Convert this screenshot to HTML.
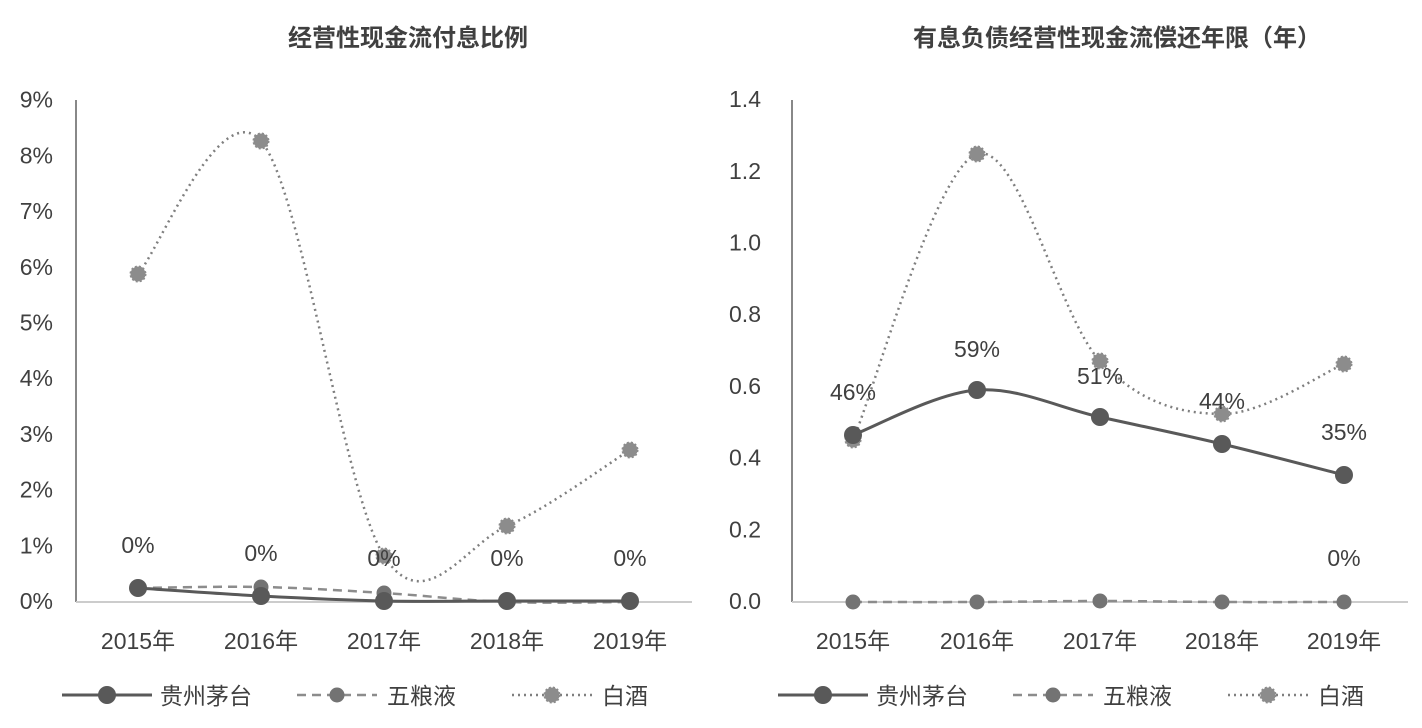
<!DOCTYPE html>
<html><head><meta charset="utf-8"><style>
html,body{margin:0;padding:0;background:#fff;}
svg text{font-family:"Liberation Sans","Noto Sans CJK SC",sans-serif;fill:#404040;}
</style></head><body>
<svg id="s" width="1422" height="723" xmlns="http://www.w3.org/2000/svg">
<text x="408" y="46" font-size="24" font-weight="bold" text-anchor="middle" fill="#333">经营性现金流付息比例</text>
<text x="1117" y="46" font-size="24" font-weight="bold" text-anchor="middle" fill="#333">有息负债经营性现金流偿还年限（年）</text>
<line x1="76" y1="100" x2="76" y2="602" stroke="#888" stroke-width="2"/>
<line x1="76" y1="602" x2="692" y2="602" stroke="#ccc" stroke-width="2"/>
<line x1="792" y1="100" x2="792" y2="602" stroke="#888" stroke-width="2"/>
<line x1="792" y1="602" x2="1408" y2="602" stroke="#ccc" stroke-width="2"/>
<g id="g"></g>
</svg>
<script>
var s=document.getElementById('g'),h='';
function t(x,y,str,sz,anc){h+='<text x="'+x+'" y="'+y+'" font-size="'+(sz||23)+'" text-anchor="'+(anc||'middle')+'">'+str+'</text>';}
for(var i=0;i<=9;i++){t(53,609-i*55.7,i+'%',23,'end');}
['0.0','0.2','0.4','0.6','0.8','1.0','1.2','1.4'].forEach(function(v,i){t(761,609-i*71.7,v,23,'end');});
var lx=[138,261,384,507,630],rx=[853,977,1100,1222,1344];
var yrs=['2015年','2016年','2017年','2018年','2019年'];
for(var i=0;i<5;i++){t(lx[i],649,yrs[i]);t(rx[i],649,yrs[i]);}
function cr(p){var d='M'+p[0][0]+','+p[0][1];for(var i=0;i<p.length-1;i++){var p0=p[i-1]||p[i],p1=p[i],p2=p[i+1],p3=p[i+2]||p2;
d+=' C'+(p1[0]+(p2[0]-p0[0])/6)+','+(p1[1]+(p2[1]-p0[1])/6)+' '+(p2[0]-(p3[0]-p1[0])/6)+','+(p2[1]-(p3[1]-p1[1])/6)+' '+p2[0]+','+p2[1];}return d;}
function ser(xs,ys,kind){var p=xs.map(function(x,i){return [x,ys[i]];});
if(kind==0)h+='<path d="'+cr(p)+'" fill="none" stroke="#595959" stroke-width="3"/>';
if(kind==1)h+='<path d="'+cr(p)+'" fill="none" stroke="#8c8c8c" stroke-width="2.5" stroke-dasharray="9,6"/>';
if(kind==2)h+='<path d="'+cr(p)+'" fill="none" stroke="#7f7f7f" stroke-width="2.5" stroke-dasharray="2,4"/>';
p.forEach(function(q){mk(q[0],q[1],kind);});}
function mk(x,y,k){if(k==0)h+='<circle cx="'+x+'" cy="'+y+'" r="9" fill="#595959"/>';
else if(k==1)h+='<circle cx="'+x+'" cy="'+y+'" r="7.5" fill="#737373"/>';
else h+='<circle cx="'+x+'" cy="'+y+'" r="7.5" fill="#8c8c8c" stroke="#8c8c8c" stroke-width="2" stroke-dasharray="2,2"/>';}
ser(lx,[274,141,556,526,450],2);
ser(lx,[588,587,593,602,602],1);
ser(lx,[588,596,601,601,601],0);
ser(rx,[440,154,361,414,364],2);
ser(rx,[602,602,601,602,602],1);
ser(rx,[435,390,417,444,475],0);
t(138,553,'0%');t(261,561,'0%');t(384,566,'0%');t(507,566,'0%');t(630,566,'0%');
t(853,400,'46%');t(977,357,'59%');t(1100,384,'51%');t(1222,409,'44%');t(1344,440,'35%');t(1344,566,'0%');
function leg(x0){h+='<line x1="'+x0+'" y1="695" x2="'+(x0+90)+'" y2="695" stroke="#595959" stroke-width="3"/>';mk(x0+45,695,0);t(x0+98,704,'贵州茅台',23,'start');
h+='<line x1="'+(x0+235)+'" y1="695" x2="'+(x0+315)+'" y2="695" stroke="#8c8c8c" stroke-width="2.5" stroke-dasharray="9,6"/>';mk(x0+275,695,1);t(x0+325,704,'五粮液',23,'start');
h+='<line x1="'+(x0+450)+'" y1="695" x2="'+(x0+530)+'" y2="695" stroke="#7f7f7f" stroke-width="2.5" stroke-dasharray="2,4"/>';mk(x0+490,695,2);t(x0+540,704,'白酒',23,'start');}
leg(62);leg(778);
s.innerHTML=h;
</script>
</body></html>
